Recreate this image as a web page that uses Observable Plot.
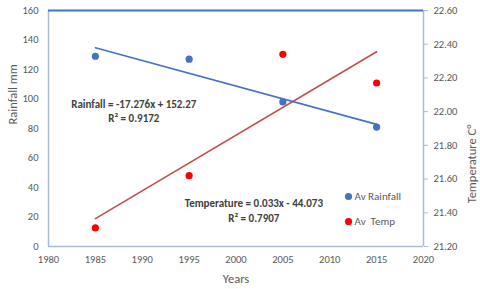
<!DOCTYPE html>
<html>
<head>
<meta charset="utf-8">
<script src="https://cdn.jsdelivr.net/npm/d3@7"></script>
<script src="https://cdn.jsdelivr.net/npm/@observablehq/plot@0.6"></script>
<style>
  html, body { margin: 0; padding: 0; background: #fff; }
  #chart svg { display: block; font-family: Carlito, Lato, "Liberation Sans", sans-serif; }
</style>
</head>
<body>
<div id="chart"></div>
<script>
// ---- data ----
const years = [1985, 1995, 2005, 2015];
const rainfall = [129, 127, 98, 81];
const temperature = [21.31, 21.62, 22.34, 22.17];
const rainTicks = [0, 20, 40, 60, 80, 100, 120, 140, 160];
const tempTicks = [21.2, 21.4, 21.6, 21.8, 22.0, 22.2, 22.4, 22.6];
const yearTicks = [1980, 1985, 1990, 1995, 2000, 2005, 2010, 2015, 2020];
const rainEq = ["Rainfall = -17.276x + 152.27", "R² = 0.9172"];
const tempEq = ["Temperature = 0.033x - 44.073", "R² = 0.7907"];
const seriesNames = ["Av Rainfall", "Av  Temp"];
const xTitle = "Years", yTitle = "Rainfall mm", y2Title = "Temperature C°";

// secondary axis mapping (temperature -> rainfall scale)
const tMin = 21.2, tMax = 22.6, rMax = 160;
const toLeft = t => (t - tMin) / (tMax - tMin) * rMax;

const rainData = years.map((year, i) => ({year, value: rainfall[i]}));
const tempData = years.map((year, i) => ({year, value: toLeft(temperature[i])}));

const blue = "#4472C4", red = "#FF0000", redLine = "#C0504D";
const grey = "#595959", frameCol = "#A9BCDB";

const chart = Plot.plot({
  width: 480,
  height: 289,
  marginTop: 10,
  marginRight: 57,
  marginBottom: 43,
  marginLeft: 48,
  style: {fontSize: "10.5px", color: grey, fontFamily: "Carlito, Lato, 'Liberation Sans', sans-serif"},
  x: {domain: [1980, 2020]},
  y: {domain: [0, rMax]},
  marks: [
    // frame
    Plot.ruleX([1980], {stroke: frameCol, strokeWidth: 1.5}),
    Plot.ruleX([2020], {stroke: frameCol, strokeWidth: 1.5}),
    Plot.ruleY([0], {stroke: frameCol, strokeWidth: 1.5}),
    Plot.ruleY([rMax], {stroke: blue, strokeWidth: 2}),
    // axes
    Plot.axisX({ticks: yearTicks, tickFormat: d => String(d), tickSize: 0, tickPadding: 9,
      label: null, fill: grey}),
    Plot.axisY({ticks: rainTicks, tickSize: 0, tickPadding: 10, label: null, fill: grey}),
    Plot.axisY({anchor: "right", ticks: tempTicks.map(toLeft),
      tickFormat: (d, i) => tempTicks[i].toFixed(2), tickSize: 4, tickPadding: 6, stroke: frameCol,
      label: null, fill: grey}),
    // axis titles
    Plot.text([xTitle], {frameAnchor: "bottom", dy: 36, text: d => d, fontSize: 12.5, fill: grey}),
    Plot.text([yTitle], {frameAnchor: "left", dx: -35.5, dy: -4, rotate: -90, text: d => d, fontSize: 12.5, fill: grey}),
    Plot.text([y2Title], {frameAnchor: "right", dx: 48, dy: -4, rotate: -90, text: d => d, fontSize: 12.5, fill: grey}),
    // points
    Plot.dot(rainData, {x: "year", y: "value", r: 3.6, fill: blue}),
    Plot.dot(tempData, {x: "year", y: "value", r: 3.6, fill: red}),
    // trendlines
    Plot.linearRegressionY(rainData, {x: "year", y: "value", stroke: blue, strokeWidth: 1.6, ci: 0}),
    Plot.linearRegressionY(tempData, {x: "year", y: "value", stroke: redLine, strokeWidth: 1.6, ci: 0}),
    // equations
    Plot.text(rainEq, {x: 1989.1, y: (d, i) => [96.3, 86.8][i], text: d => d,
      fontWeight: "bold", fill: "#404040", fontSize: 11}),
    Plot.text(tempEq, {x: 2001.9, y: (d, i) => [29.2, 19.0][i], text: d => d,
      fontWeight: "bold", fill: "#404040", fontSize: 11}),
    // legend
    Plot.dot(seriesNames, {x: 2012, y: (d, i) => [33.9, 16.9][i], r: 3.6, fill: (d, i) => [blue, red][i]}),
    Plot.text(seriesNames, {x: 2012, y: (d, i) => [33.9, 16.9][i], text: d => d, dx: 6,
      textAnchor: "start", fill: grey, fontSize: 11})
  ]
});
document.getElementById("chart").appendChild(chart);
</script>
</body>
</html>
